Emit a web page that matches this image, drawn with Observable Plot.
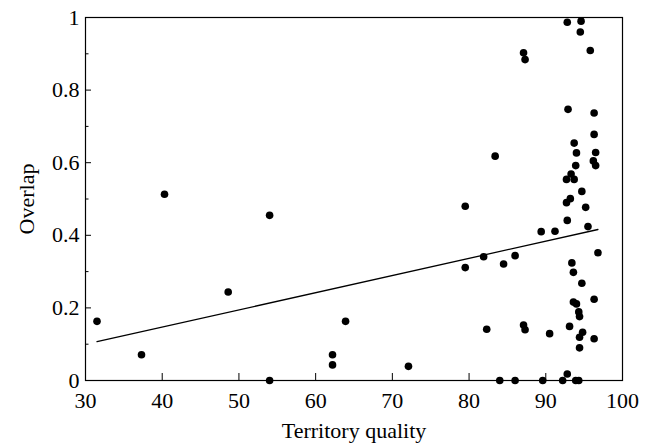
<!DOCTYPE html>
<html><head><meta charset="utf-8">
<script src="https://cdn.jsdelivr.net/npm/d3@7"></script>
<script src="https://cdn.jsdelivr.net/npm/@observablehq/plot@0.6"></script>
<style>html,body{margin:0;padding:0;background:#fff}</style>
</head><body><div id="chart"></div>
<script>
// Territory quality (x) and Overlap (y)
const quality = [31.5, 37.3, 40.3, 48.6, 54.0, 54.0, 62.2, 62.2, 63.9, 72.1,
  79.5, 79.5, 81.9, 82.3, 83.4, 84.0, 84.5, 86.0, 86.0, 87.1,
  87.3, 87.1, 87.3, 89.4, 89.6, 90.5, 91.2, 92.2, 92.8, 92.8,
  92.9, 92.7, 93.3, 92.7, 93.2, 92.8, 93.1, 93.4, 93.6, 93.6,
  93.7, 93.7, 93.9, 94.0, 94.0, 93.9, 94.3, 94.3, 94.4, 94.4,
  94.4, 94.5, 94.6, 94.7, 94.7, 94.8, 95.2, 95.5, 95.8, 96.2,
  96.3, 96.3, 96.3, 96.3, 96.5, 96.5, 96.8];
const overlap = [0.163, 0.071, 0.513, 0.244, 0.455, 0, 0.071, 0.043, 0.163, 0.039,
  0.480, 0.311, 0.341, 0.141, 0.618, 0, 0.321, 0.344, 0, 0.903,
  0.884, 0.153, 0.140, 0.410, 0, 0.129, 0.411, 0, 0.018, 0.987,
  0.747, 0.554, 0.569, 0.490, 0.501, 0.441, 0.149, 0.324, 0.298, 0.216,
  0.654, 0.554, 0.592, 0.627, 0.211, 0, 0, 0.189, 0.176, 0.119,
  0.090, 0.960, 0.990, 0.521, 0.268, 0.133, 0.477, 0.424, 0.909, 0.605,
  0.737, 0.678, 0.224, 0.115, 0.628, 0.592, 0.352];
// fitted line end points
const trendQuality = [31.5, 96.8];
const trendOverlap = [0.107, 0.416];
// ticks
const xTicks = [30, 40, 50, 60, 70, 80, 90, 100];
const xTickLabels = ["30", "40", "50", "60", "70", "80", "90", "100"];
const yTicks = [0, 0.2, 0.4, 0.6, 0.8, 1];
const yTickLabels = ["0", "0.2", "0.4", "0.6", "0.8", "1"];
const yMinorTicks = [0.1, 0.3, 0.5, 0.7, 0.9];
const xTitle = "Territory quality";
const yTitle = "Overlap";

const points = quality.map((q, i) => ({q, o: overlap[i]}));
const trend = trendQuality.map((q, i) => ({q, o: trendOverlap[i]}));
const font = "'Liberation Serif', 'Times New Roman', serif";

const chart = Plot.plot({
  width: 654, height: 443,
  marginLeft: 85, marginRight: 32, marginTop: 17, marginBottom: 63,
  style: {fontFamily: font, fontSize: "22px", color: "#000", background: "#fff"},
  x: {domain: [30, 100]},
  y: {domain: [0, 1]},
  marks: [
    Plot.frame({stroke: "#000", strokeWidth: 1.2}),
    Plot.axisX(xTicks, {tickSize: -7, tickPadding: 19, fontFamily: font, fontSize: 22,
      tickFormat: d => xTickLabels[xTicks.indexOf(d)],
      label: xTitle, labelAnchor: "center", labelArrow: "none", labelOffset: 57}),
    Plot.axisY(yTicks, {tickSize: -6, tickPadding: 12, fontFamily: font, fontSize: 22,
      tickFormat: d => yTickLabels[yTicks.indexOf(d)],
      label: yTitle, labelAnchor: "center", labelArrow: "none", labelOffset: 67}),
    Plot.axisY(yMinorTicks, {tickSize: -3.5, tickFormat: () => "", label: null}),
    Plot.line(trend, {x: "q", y: "o", stroke: "#000", strokeWidth: 1.3}),
    Plot.dot(points, {x: "q", y: "o", r: 3.8, fill: "#000", stroke: "none"})
  ]
});
document.getElementById("chart").appendChild(chart);
</script>
</body></html>
